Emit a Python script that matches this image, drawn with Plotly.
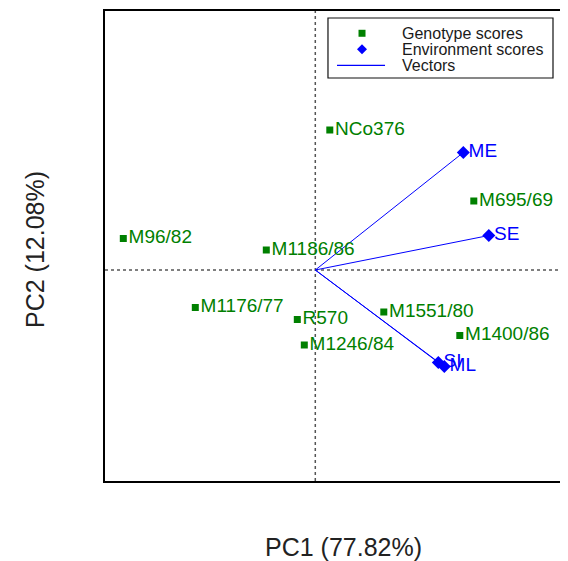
import plotly.graph_objects as go

# Genotype scores (PC1, PC2)
genotypes = ["NCo376", "M695/69", "M96/82", "M1186/86", "M1176/77",
             "R570", "M1246/84", "M1551/80", "M1400/86"]
geno_pc1 = [0.29, 3.17, -3.84, -0.98, -2.40, -0.36, -0.22, 1.37, 2.89]
geno_pc2 = [2.80, 1.38, 0.63, 0.40, -0.75, -0.99, -1.50, -0.84, -1.31]

# Environment scores (PC1, PC2)
environments = ["ME", "SE", "SI", "ML"]
env_pc1 = [2.96, 3.47, 2.46, 2.58]
env_pc2 = [2.35, 0.69, -1.85, -1.93]

legend_labels = ["Genotype scores", "Environment scores", "Vectors"]
x_title = "PC1 (77.82%)"
y_title = "PC2 (12.08%)"

GREEN = "#008000"
BLUE = "#0000FF"
FONT = "Liberation Sans, Arial, sans-serif"
NB = "\u00a0"

vx, vy = [], []
for a, b in zip(env_pc1, env_pc2):
    vx += [0, a, None]
    vy += [0, b, None]

fig = go.Figure()
fig.add_trace(go.Scatter(x=vx, y=vy, mode="lines", name=legend_labels[2],
                         line=dict(color=BLUE, width=1), showlegend=False,
                         hoverinfo="skip"))
fig.add_trace(go.Scatter(x=geno_pc1, y=geno_pc2, mode="markers",
                         name=legend_labels[0], showlegend=False,
                         marker=dict(symbol="square", size=7, color=GREEN)))
fig.add_trace(go.Scatter(x=env_pc1, y=env_pc2, mode="markers",
                         name=legend_labels[1], showlegend=False,
                         marker=dict(symbol="diamond", size=10, color=BLUE)))
fig.add_trace(go.Scatter(x=geno_pc1, y=geno_pc2, mode="text",
                         text=[NB + g for g in genotypes],
                         textposition="middle right", showlegend=False,
                         textfont=dict(family=FONT, size=19, color=GREEN),
                         cliponaxis=False, hoverinfo="skip"))
fig.add_trace(go.Scatter(x=env_pc1, y=env_pc2, mode="text",
                         text=[NB + e for e in environments],
                         textposition="middle right", showlegend=False,
                         textfont=dict(family=FONT, size=19, color=BLUE),
                         cliponaxis=False, hoverinfo="skip"))

# reference lines through origin
fig.add_shape(type="line", x0=0, x1=0, y0=0, y1=1, xref="x", yref="paper",
              line=dict(color="#555555", width=1.5, dash="dot"), layer="below")
fig.add_shape(type="line", x0=0, x1=1, y0=0, y1=0, xref="paper", yref="y",
              line=dict(color="#555555", width=1.5, dash="dot"), layer="below")

# manual legend (box, symbols, labels)
fig.add_shape(type="rect", xref="paper", yref="paper",
              x0=0.4816, x1=0.9676, y0=0.8574, y1=0.9851,
              line=dict(color="#111111", width=1.2), fillcolor="white")
fig.add_shape(type="rect", xref="paper", yref="paper",
              xsizemode="pixel", ysizemode="pixel",
              xanchor=0.5551, yanchor=0.9526, x0=-3.5, x1=3.5, y0=-3.5, y1=3.5,
              line=dict(width=0), fillcolor=GREEN)
fig.add_shape(type="path", xref="paper", yref="paper",
              xsizemode="pixel", ysizemode="pixel",
              xanchor=0.5551, yanchor=0.9185,
              path="M -5 0 L 0 5 L 5 0 L 0 -5 Z",
              line=dict(width=0), fillcolor=BLUE)
fig.add_shape(type="line", xref="paper", yref="paper",
              x0=0.5011, x1=0.6048, y0=0.8845, y1=0.8845,
              line=dict(color=BLUE, width=1.3))
for lab, yy in zip(legend_labels, [0.9526, 0.9185, 0.884]):
    fig.add_annotation(text=lab, xref="paper", yref="paper", x=0.6371, y=yy,
                       xanchor="left", yanchor="middle", showarrow=False,
                       font=dict(family=FONT, size=16, color="#1a1a1a"))

fig.add_annotation(text=x_title, xref="paper", yref="paper", x=0.516, y=-0.1404,
                   xanchor="center", yanchor="middle", showarrow=False,
                   font=dict(family=FONT, size=25, color="#222222"))
fig.add_annotation(text=y_title, xref="paper", yref="paper", x=-0.1512, y=0.4936,
                   xanchor="center", yanchor="middle", showarrow=False,
                   textangle=-90,
                   font=dict(family=FONT, size=25, color="#222222"))

fig.update_xaxes(range=[-4.206, 5.054], showline=True, mirror=True,
                 linecolor="black", linewidth=2, showticklabels=False,
                 ticks="", showgrid=False, zeroline=False)
fig.update_yaxes(range=[-4.22, 5.18], showline=True, mirror=False,
                 linecolor="black", linewidth=2, showticklabels=False,
                 ticks="", showgrid=False, zeroline=False)

fig.update_layout(
    width=560, height=553,
    margin=dict(l=97, r=0, t=3, b=80),
    paper_bgcolor="white", plot_bgcolor="white",
    showlegend=False,
    font=dict(family=FONT),
)

fig.write_html("out.html")
